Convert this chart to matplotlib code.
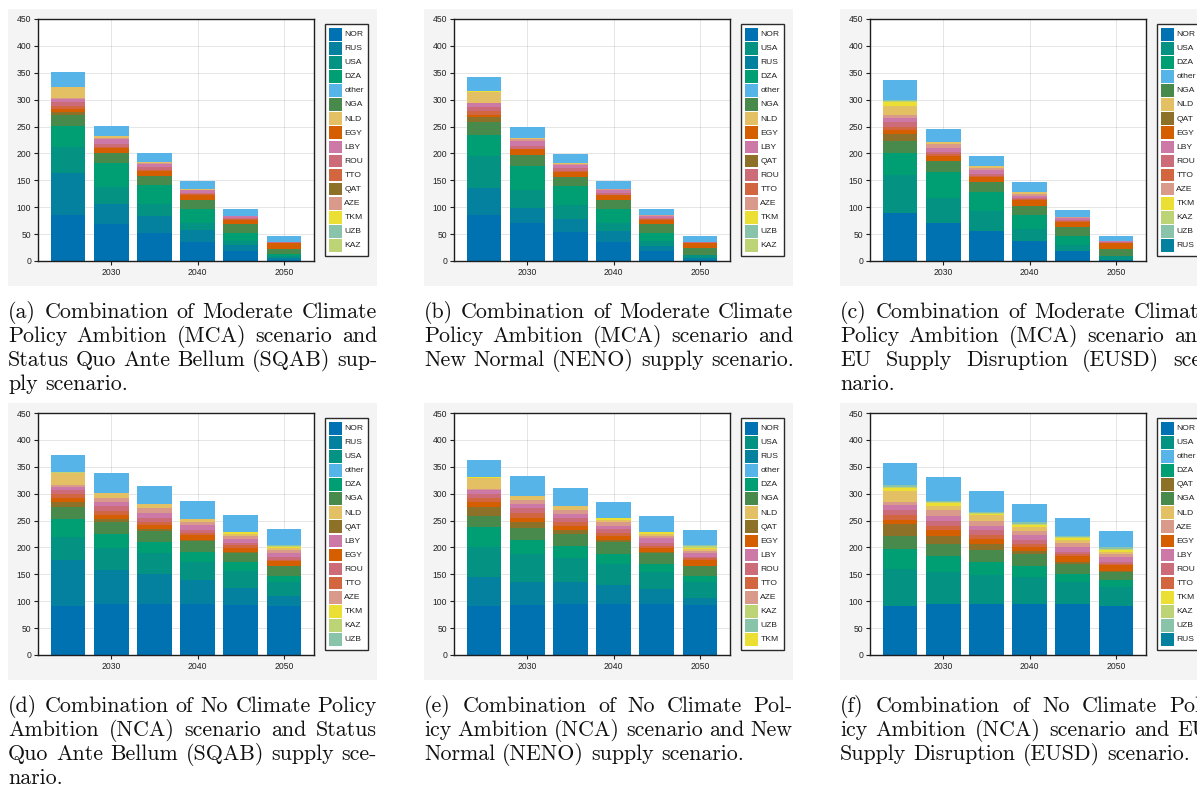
import matplotlib
matplotlib.use("Agg")
import matplotlib.pyplot as plt
from matplotlib.patches import Rectangle

W, H = 1197, 789

years = [2025, 2030, 2035, 2040, 2045, 2050]

# bottom-to-top stacking order of the supplier countries
stack_order = ["NOR", "RUS", "USA", "DZA", "NGA", "QAT", "EGY", "TTO", "ROU",
               "LBY", "AZE", "NLD", "TKM", "KAZ", "UZB", "other"]

colors = {
    "NOR": "#0072b2", "RUS": "#04819e", "USA": "#049283", "DZA": "#009e73",
    "other": "#56b4e9", "NGA": "#478a4c", "NLD": "#e2c063", "EGY": "#d55e00",
    "LBY": "#cc79a7", "ROU": "#cd6c79", "TTO": "#d26640", "QAT": "#8e7128",
    "AZE": "#d99a8b", "TKM": "#ebdf33", "UZB": "#89c3aa", "KAZ": "#bcd475",
}

# imports by supplier, 2025..2050
mca_sqab = {
    "NOR": [85.6, 69.4, 52.0, 35.3, 18.6, 2.5],
    "RUS": [78.1, 36.6, 32.3, 23.0, 10.4, 3.1],
    "USA": [48.3, 31.0, 21.7, 12.4, 7.6, 3.0],
    "DZA": [39.7, 45.3, 35.4, 26.0, 14.9, 4.4],
    "NGA": [19.8, 18.6, 17.3, 17.3, 17.9, 9.3],
    "QAT": [5.5, 0, 0, 0, 0, 0],
    "EGY": [5.7, 9.9, 8.7, 8.8, 7.5, 11.2],
    "TTO": [5.3, 1.5, 1.0, 1.0, 0.5, 0.5],
    "ROU": [7.7, 5.9, 5.8, 3.2, 2.6, 1.0],
    "LBY": [6.3, 9.3, 6.8, 4.4, 3.0, 1.0],
    "AZE": [1.8, 1.9, 1.5, 1.5, 0.8, 0],
    "NLD": [19.8, 3.6, 1.5, 1.6, 0.5, 0],
    "TKM": [0, 0, 0, 0, 0, 0],
    "KAZ": [0, 0, 0, 0, 0, 0],
    "UZB": [0, 0, 0, 0, 0, 0],
    "other": [27.9, 18.0, 16.9, 14.3, 12.4, 10.5],
}
mca_neno = {
    "NOR": [85.6, 70.7, 54.0, 35.3, 18.6, 2.5],
    "RUS": [50.8, 27.9, 24.0, 21.1, 9.9, 2.5],
    "USA": [59.5, 33.4, 26.0, 14.3, 8.7, 5.5],
    "DZA": [39.1, 45.3, 36.0, 26.0, 14.8, 1.5],
    "NGA": [24.0, 19.8, 16.2, 17.3, 17.4, 12.2],
    "QAT": [8.0, 0, 0, 0, 0, 0],
    "EGY": [4.5, 10.6, 9.8, 8.0, 7.5, 9.3],
    "TTO": [6.9, 1.0, 1.5, 1.0, 0.5, 0.5],
    "ROU": [8.0, 5.8, 4.8, 3.5, 3.2, 1.0],
    "LBY": [6.8, 9.3, 6.9, 5.5, 3.1, 1.0],
    "AZE": [1.3, 2.5, 1.7, 1.0, 1.3, 0],
    "NLD": [19.2, 3.1, 2.0, 1.0, 0, 0],
    "TKM": [1.9, 0, 0, 0, 0, 0],
    "KAZ": [0, 0, 0, 0, 0, 0],
    "UZB": [0, 0, 0, 0, 0, 0],
    "other": [26.6, 19.8, 16.7, 14.8, 11.7, 10.5],
}
mca_eusd = {
    "NOR": [89.3, 70.7, 55.8, 37.2, 18.6, 2.0],
    "RUS": [0, 0, 0, 0, 0, 0],
    "USA": [70.7, 46.5, 37.2, 22.3, 10.5, 7.3],
    "DZA": [40.2, 48.3, 35.3, 26.1, 17.4, 0.5],
    "NGA": [22.4, 19.9, 19.3, 17.4, 16.7, 11.9],
    "QAT": [13.6, 0, 0, 0, 0, 0],
    "EGY": [7.4, 10.6, 8.6, 10.5, 10.0, 11.8],
    "TTO": [5.6, 3.0, 1.5, 1.2, 0.7, 0.7],
    "ROU": [9.3, 3.7, 4.7, 2.5, 3.0, 1.5],
    "LBY": [8.1, 8.1, 7.5, 4.3, 3.1, 1.5],
    "AZE": [4.4, 6.8, 3.1, 3.7, 1.0, 0.5],
    "NLD": [17.3, 3.7, 3.7, 2.5, 0.8, 0],
    "TKM": [7.4, 0, 0, 0, 0, 0],
    "KAZ": [1.9, 0, 0, 0, 0, 0],
    "UZB": [1.8, 0, 0, 0, 0, 0],
    "other": [37.2, 24.2, 18.6, 19.3, 13.1, 9.3],
}
nca_sqab = {
    "NOR": [90.5, 94.2, 94.2, 94.2, 92.4, 90.5],
    "RUS": [86.8, 64.5, 57.1, 45.9, 32.8, 18.6],
    "USA": [42.7, 39.7, 37.7, 32.9, 30.4, 26.1],
    "DZA": [33.6, 27.3, 21.8, 19.2, 16.7, 12.4],
    "NGA": [22.3, 21.7, 20.4, 20.4, 17.4, 17.3],
    "QAT": [8.7, 6.2, 3.8, 1.5, 1.9, 0],
    "EGY": [8.0, 7.4, 7.4, 9.7, 8.0, 9.3],
    "TTO": [7.4, 7.4, 5.6, 2.5, 4.4, 3.1],
    "ROU": [6.9, 8.7, 7.4, 6.8, 3.7, 4.3],
    "LBY": [6.1, 8.1, 9.3, 8.1, 8.7, 8.1],
    "AZE": [3.8, 7.4, 8.1, 6.2, 4.9, 5.0],
    "NLD": [21.7, 9.4, 7.4, 6.2, 3.7, 4.3],
    "TKM": [0, 0, 0, 0, 3.1, 2.5],
    "KAZ": [1.3, 0, 0, 0, 0, 1.3],
    "UZB": [1.2, 0, 0, 0, 0, 1.2],
    "other": [31.6, 37.1, 34.8, 33.4, 32.9, 31.0],
}
nca_neno = {
    "NOR": [90.5, 92.4, 94.2, 95.5, 94.2, 92.4],
    "RUS": [55.2, 44.0, 42.2, 35.3, 27.9, 14.2],
    "USA": [55.8, 50.8, 44.6, 37.8, 31.7, 28.6],
    "DZA": [35.9, 27.3, 22.3, 19.9, 16.1, 12.4],
    "NGA": [21.1, 21.7, 21.7, 21.7, 19.1, 17.3],
    "QAT": [17.4, 10.5, 6.9, 3.1, 2.0, 0],
    "EGY": [8.1, 8.7, 7.4, 7.4, 8.6, 12.4],
    "TTO": [7.4, 9.3, 7.4, 5.6, 3.7, 2.5],
    "ROU": [8.0, 8.1, 7.5, 7.4, 4.4, 3.1],
    "LBY": [7.5, 7.4, 7.4, 6.8, 9.3, 6.8],
    "AZE": [1.5, 7.5, 7.5, 6.2, 5.0, 3.7],
    "NLD": [20.8, 8.6, 7.4, 5.0, 3.7, 3.7],
    "TKM": [1.8, 0, 0, 2.5, 3.1, 2.5],
    "KAZ": [0, 0, 0, 0, 0, 2.5],
    "UZB": [0, 0, 0, 0, 0, 2.5],
    "other": [32.3, 37.2, 34.7, 31.0, 30.3, 28.5],
}
nca_eusd = {
    "NOR": [90.5, 94.2, 95.5, 95.5, 94.2, 91.8],
    "RUS": [0, 0, 0, 0, 0, 0],
    "USA": [68.8, 59.6, 53.9, 49.0, 41.0, 34.1],
    "DZA": [37.2, 29.7, 24.2, 20.5, 16.1, 14.2],
    "NGA": [24.2, 22.3, 22.3, 22.2, 18.6, 14.9],
    "QAT": [23.6, 16.2, 11.1, 5.6, 3.7, 1.0],
    "EGY": [7.4, 9.9, 9.4, 8.7, 10.5, 10.8],
    "TTO": [9.3, 8.6, 7.4, 5.5, 4.4, 3.1],
    "ROU": [9.3, 8.1, 8.1, 7.5, 3.7, 2.4],
    "LBY": [8.1, 9.3, 8.6, 8.1, 9.3, 9.3],
    "AZE": [5.6, 11.2, 9.3, 8.6, 7.5, 5.6],
    "NLD": [20.4, 8.6, 10.0, 6.2, 5.5, 4.4],
    "TKM": [6.2, 5.6, 3.1, 5.0, 3.7, 3.1],
    "KAZ": [1.9, 1.3, 1.5, 1.9, 1.5, 2.4],
    "UZB": [3.1, 2.4, 1.6, 2.4, 1.6, 3.8],
    "other": [42.1, 43.4, 39.6, 34.8, 34.1, 30.3],
}

legend_mca_sqab = ["NOR", "RUS", "USA", "DZA", "other", "NGA", "NLD", "EGY",
                   "LBY", "ROU", "TTO", "QAT", "AZE", "TKM", "UZB", "KAZ"]
legend_mca_neno = ["NOR", "USA", "RUS", "DZA", "other", "NGA", "NLD", "EGY",
                   "LBY", "QAT", "ROU", "TTO", "AZE", "TKM", "UZB", "KAZ"]
legend_mca_eusd = ["NOR", "USA", "DZA", "other", "NGA", "NLD", "QAT", "EGY",
                   "LBY", "ROU", "TTO", "AZE", "TKM", "KAZ", "UZB", "RUS"]
legend_nca_sqab = ["NOR", "RUS", "USA", "other", "DZA", "NGA", "NLD", "QAT",
                   "LBY", "EGY", "ROU", "TTO", "AZE", "TKM", "KAZ", "UZB"]
legend_nca_neno = ["NOR", "USA", "RUS", "other", "DZA", "NGA", "NLD", "QAT",
                   "EGY", "LBY", "ROU", "TTO", "AZE", "KAZ", "UZB", "TKM"]
legend_nca_eusd = ["NOR", "USA", "other", "DZA", "QAT", "NGA", "NLD", "AZE",
                   "EGY", "LBY", "ROU", "TTO", "TKM", "KAZ", "UZB", "RUS"]

caption_mca_sqab = ["(a) Combination of Moderate Climate",
                    "Policy Ambition (MCA) scenario and",
                    "Status Quo Ante Bellum (SQAB) sup-",
                    "ply scenario."]
caption_mca_neno = ["(b) Combination of Moderate Climate",
                    "Policy Ambition (MCA) scenario and",
                    "New Normal (NENO) supply scenario."]
caption_mca_eusd = ["(c) Combination of Moderate Climate",
                    "Policy Ambition (MCA) scenario and",
                    "EU Supply Disruption (EUSD) sce-",
                    "nario."]
caption_nca_sqab = ["(d) Combination of No Climate Policy",
                    "Ambition (NCA) scenario and Status",
                    "Quo Ante Bellum (SQAB) supply sce-",
                    "nario."]
caption_nca_neno = ["(e) Combination of No Climate Pol-",
                    "icy Ambition (NCA) scenario and New",
                    "Normal (NENO) supply scenario."]
caption_nca_eusd = ["(f) Combination of No Climate Pol-",
                    "icy Ambition (NCA) scenario and EU",
                    "Supply Disruption (EUSD) scenario."]

panels = [
    (mca_sqab, legend_mca_sqab, caption_mca_sqab),
    (mca_neno, legend_mca_neno, caption_mca_neno),
    (mca_eusd, legend_mca_eusd, caption_mca_eusd),
    (nca_sqab, legend_nca_sqab, caption_nca_sqab),
    (nca_neno, legend_nca_neno, caption_nca_neno),
    (nca_eusd, legend_nca_eusd, caption_nca_eusd),
]

plt.rcParams["font.family"] = ["Liberation Sans", "DejaVu Sans"]

fig = plt.figure(figsize=(W / 100, H / 100), dpi=100)

# background layer in pixel units (origin top-left) for panels, legends, captions
over = fig.add_axes([0, 0, 1, 1], zorder=-1)
over.set_xlim(0, W)
over.set_ylim(H, 0)
over.axis("off")

renderer = fig.canvas.get_renderer()
cap_size = 15.8


def text_width(s):
    t = over.text(0, 0, s, fontsize=cap_size, family="cmr10")
    w = t.get_window_extent(renderer).width
    t.remove()
    return w


space_w = text_width("a a") - 2 * text_width("a")


def draw_caption(lines, x0, x1, y0, step=24):
    # justified paragraph, last line set ragged
    for i, line in enumerate(lines):
        words = line.split(" ")
        widths = [text_width(w) for w in words]
        last = i == len(lines) - 1
        if last or len(words) == 1:
            gap = space_w
        else:
            gap = (x1 - x0 - sum(widths)) / (len(words) - 1)
        x = x0
        for w, ww in zip(words, widths):
            over.text(x, y0 + i * step, w, fontsize=cap_size, family="cmr10",
                      ha="left", va="baseline", color="#111111")
            x += ww + gap


def draw_legend(names, x0, y0, width=43, height=232):
    over.add_patch(Rectangle((x0, y0), width, height, facecolor="white",
                             edgecolor="#2b2b2b", linewidth=1.0))
    pitch = 14.07
    for i, name in enumerate(names):
        top = y0 + 4 + i * pitch
        over.add_patch(Rectangle((x0 + 4.3, top), 12.4, 12.7,
                                 facecolor=colors[name], linewidth=0))
        over.text(x0 + 19.3, top + 6.6, name, fontsize=6.1, ha="left",
                  va="center", color="#222222")


col_left = [38, 454, 870]
row_top = [19, 413]
ax_w, ax_h = 276, 242

for k, (data, legend_names, caption) in enumerate(panels):
    left = col_left[k % 3]
    top = row_top[k // 3]

    # light grey panel background
    over.add_patch(Rectangle((left - 30, top - 10), 369, ax_h + 35,
                             facecolor="#f4f4f4", linewidth=0))

    ax = fig.add_axes([left / W, 1 - (top + ax_h) / H, ax_w / W, ax_h / H])
    bottom = [0.0] * len(years)
    for name in stack_order:
        vals = data[name]
        ax.bar(years, vals, width=4, bottom=bottom, color=colors[name],
               linewidth=0)
        bottom = [b + v for b, v in zip(bottom, vals)]

    ax.set_xlim(2021.5, 2053.5)
    ax.set_ylim(0, 450)
    ax.set_xticks([2030, 2040, 2050])
    ax.set_yticks(range(0, 451, 50))
    ax.set_axisbelow(True)
    ax.grid(True, color="black", alpha=0.1, linewidth=0.7)
    for sp in ax.spines.values():
        sp.set_color("#1e1e1e")
        sp.set_linewidth(1.0)
    ax.tick_params(direction="out", length=3, width=0.8, color="#1e1e1e",
                   labelsize=6.2, pad=2, labelcolor="#222222")

    draw_legend(legend_names, left + ax_w + 11, top + 5)

    cap_y = 318 if k < 3 else 712
    draw_caption(caption, left - 30, left - 30 + 369, cap_y)

fig.savefig("out.png", dpi=100)
